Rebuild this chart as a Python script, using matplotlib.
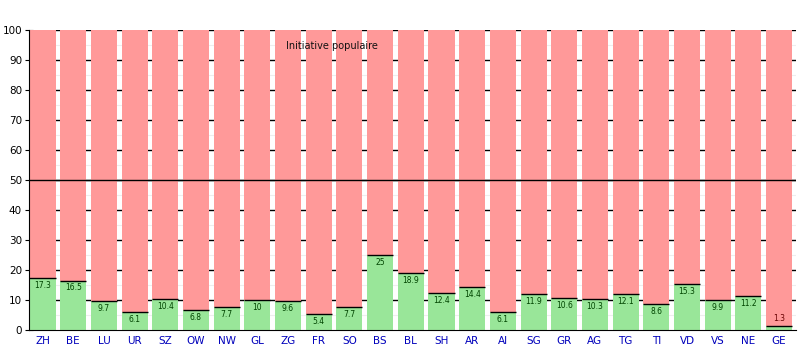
import numpy as np
import matplotlib.pyplot as plt
from matplotlib.ticker import MultipleLocator

# Cantons et pourcentage de oui
cantons = ['ZH', 'BE', 'LU', 'UR', 'SZ', 'OW', 'NW', 'GL', 'ZG', 'FR', 'SO', 'BS', 'BL',
           'SH', 'AR', 'AI', 'SG', 'GR', 'AG', 'TG', 'TI', 'VD', 'VS', 'NE', 'GE']
oui = [17.3, 16.5, 9.7, 6.1, 10.4, 6.8, 7.7, 10, 9.6, 5.4, 7.7, 25, 18.9,
       12.4, 14.4, 6.1, 11.9, 10.6, 10.3, 12.1, 8.6, 15.3, 9.9, 11.2, 1.3]
titre = 'Initiative populaire'

non = [100 - v for v in oui]
x = np.arange(len(cantons))

fig = plt.figure(figsize=(8.01, 3.5), dpi=100)
ax = fig.add_axes([29/801, 20/350, 767/801, 300/350])

# grille derrière les barres
for y in range(10, 101, 10):
    ax.axhline(y, color='black', lw=1, zorder=0)
for y in range(5, 100, 10):
    ax.axhline(y, color='#eeeeee', lw=0.8, zorder=0)

w = 0.85
ax.bar(x, oui, width=w, color='#99e699', zorder=2)
ax.bar(x, non, width=w, bottom=oui, color='#ff9999', zorder=2)
ax.hlines(oui, x - w/2, x + w/2, color='black', lw=1, zorder=3)
ax.axhline(50, color='black', lw=1, zorder=4)

for xi, v in zip(x, oui):
    txt = f'{v:g}'
    if v < 4:
        ax.text(xi, v + 1, txt, ha='center', va='bottom', fontsize=5.5, color='#660000', zorder=5)
    else:
        ax.text(xi, v - 1, txt, ha='center', va='top', fontsize=5.5, color='#004400', zorder=5)

ax.text(9.43, 94.7, titre, ha='center', va='center', fontsize=7, color='#111111', zorder=5)

ax.set_xlim(-0.44, 24.55)
ax.set_ylim(0, 100)
ax.set_xticks(x)
ax.set_xticklabels(cantons, color='#0000bb', fontsize=7.5)
ax.tick_params(axis='x', length=0, pad=4)
ax.yaxis.set_major_locator(MultipleLocator(10))
ax.yaxis.set_minor_locator(MultipleLocator(5))
ax.tick_params(axis='y', which='major', direction='inout', length=6, labelsize=7.5, pad=2)
ax.tick_params(axis='y', which='minor', direction='in', length=3)
for s in ['top', 'right']:
    ax.spines[s].set_visible(False)
ax.spines['left'].set_zorder(6)
ax.spines['bottom'].set_zorder(6)

plt.savefig('out.png', dpi=100)
